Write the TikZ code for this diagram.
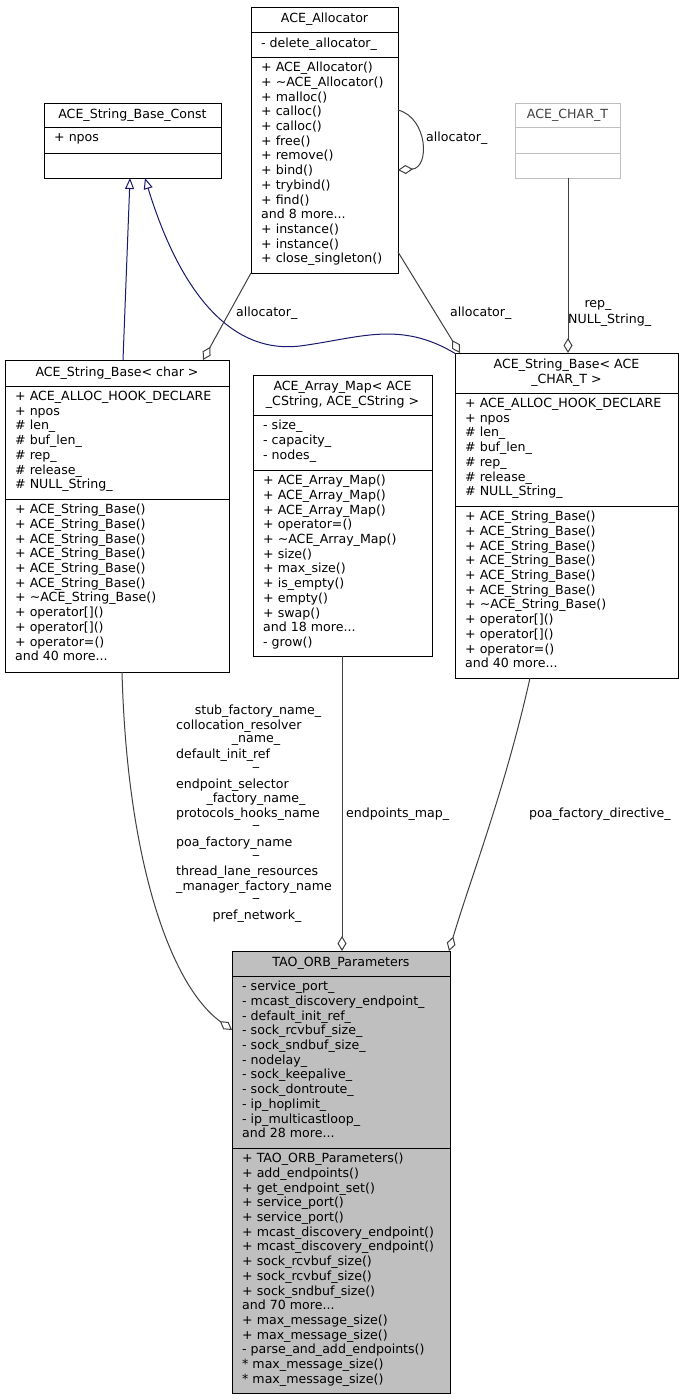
\documentclass[tikz,border=0pt]{standalone}
\usepackage{fontspec}
\setmainfont{DejaVu Sans}
\usetikzlibrary{arrows.meta}
\definecolor{inh}{HTML}{191970}
\definecolor{agg}{HTML}{404040}
\definecolor{grayfill}{HTML}{BFBFBF}
\definecolor{grayline}{HTML}{BFBFBF}
\tikzset{
  boxst/.style={draw=black, line width=1pt, inner sep=0pt, outer sep=0pt},
  txt/.style={inner sep=0pt, align=left, font=\fontsize{12.6}{14.7}\selectfont, anchor=north west},
  ttl/.style={inner sep=0pt, align=center, font=\fontsize{12.6}{14.7}\selectfont},
  lbl/.style={inner sep=0pt, font=\fontsize{12.6}{14.7}\selectfont},
  inhline/.style={draw=inh, line width=1pt, -{Triangle[open,length=11pt,width=9pt,fill=white]}},
  aggline/.style={draw=agg, line width=1pt, -{Diamond[open,length=15pt,width=9pt,fill=white]}}
}
\newcommand\umlbox[8]{%
  \node[boxst, fill=#8, anchor=north west, minimum width={(#3-#2)*1pt}, minimum height={(#7-#4)*1pt}] (#1) at (#2,#4) {};
  \draw[line width=1pt] (#2,#5) -- (#3,#5);
  \draw[line width=1pt] (#2,#6) -- (#3,#6);}
\begin{document}
\begin{tikzpicture}[x=1pt,y=-1pt]
\useasboundingbox (0,0) rectangle (683,1400);
\fill[white] (0,0) rectangle (683,1400);
% ACE_Allocator
\umlbox{alloc}{251}{398}{7}{32}{57}{273}{white}
\node[ttl] (allocT) at (324.5,19.5) {ACE\_Allocator};
\node[txt] (allocA) at (261,38) {- delete\_allocator\_};
\node[txt] (allocM) at (261,62) {+ ACE\_Allocator()\\+ \textasciitilde ACE\_Allocator()\\+ malloc()\\+ calloc()\\+ calloc()\\+ free()\\+ remove()\\+ bind()\\+ trybind()\\+ find()\\and 8 more...\\+ instance()\\+ instance()\\+ close\_singleton()};
% ACE_String_Base_Const
\umlbox{sbc}{44}{221}{103}{127}{153}{178}{white}
\node[ttl] (sbcT) at (132.5,115) {ACE\_String\_Base\_Const};
\node[txt] (sbcA) at (54,133) {+ npos};
% ACE_CHAR_T
\node[boxst, draw=grayline, fill=white, anchor=north west, minimum width=105pt, minimum height=75pt] (chart) at (515,103) {};
\draw[grayline, line width=1pt] (515,127) -- (620,127);
\draw[grayline, line width=1pt] (515,153) -- (620,153);
\node[ttl, text=black!75] (chartT) at (567.5,115) {ACE\_CHAR\_T};
% ACE_String_Base<char>
\umlbox{sbchar}{5}{229}{360}{386}{499}{672}{white}
\node[ttl] (sbcharT) at (117,373) {ACE\_String\_Base< char >};
\node[txt] (sbcharA) at (15,391) {+ ACE\_ALLOC\_HOOK\_DECLARE\\+ npos\\\# len\_\\\# buf\_len\_\\\# rep\_\\\# release\_\\\# NULL\_String\_};
\node[txt] (sbcharM) at (15,504) {+ ACE\_String\_Base()\\+ ACE\_String\_Base()\\+ ACE\_String\_Base()\\+ ACE\_String\_Base()\\+ ACE\_String\_Base()\\+ ACE\_String\_Base()\\+ \textasciitilde ACE\_String\_Base()\\+ operator[]()\\+ operator[]()\\+ operator=()\\and 40 more...};
% ACE_Array_Map
\umlbox{amap}{253}{432}{375}{415}{470}{656}{white}
\node[ttl] (amapT) at (342.5,395) {ACE\_Array\_Map< ACE\\\_CString, ACE\_CString >};
\node[txt] (amapA) at (263,420) {- size\_\\- capacity\_\\- nodes\_};
\node[txt] (amapM) at (263,475) {+ ACE\_Array\_Map()\\+ ACE\_Array\_Map()\\+ ACE\_Array\_Map()\\+ operator=()\\+ \textasciitilde ACE\_Array\_Map()\\+ size()\\+ max\_size()\\+ is\_empty()\\+ empty()\\+ swap()\\and 18 more...\\- grow()};
% ACE_String_Base<ACE_CHAR_T>
\umlbox{sbct}{455}{678}{353}{393}{506}{678}{white}
\node[ttl] (sbctT) at (566.5,373) {ACE\_String\_Base< ACE\\\_CHAR\_T >};
\node[txt] (sbctA) at (465,398) {+ ACE\_ALLOC\_HOOK\_DECLARE\\+ npos\\\# len\_\\\# buf\_len\_\\\# rep\_\\\# release\_\\\# NULL\_String\_};
\node[txt] (sbctM) at (465,511) {+ ACE\_String\_Base()\\+ ACE\_String\_Base()\\+ ACE\_String\_Base()\\+ ACE\_String\_Base()\\+ ACE\_String\_Base()\\+ ACE\_String\_Base()\\+ \textasciitilde ACE\_String\_Base()\\+ operator[]()\\+ operator[]()\\+ operator=()\\and 40 more...};
% TAO_ORB_Parameters
\umlbox{tao}{232}{450}{951}{976}{1148}{1393}{grayfill}
\node[ttl] (taoT) at (341,963.5) {TAO\_ORB\_Parameters};
\node[txt] (taoA) at (242,981) {- service\_port\_\\- mcast\_discovery\_endpoint\_\\- default\_init\_ref\_\\- sock\_rcvbuf\_size\_\\- sock\_sndbuf\_size\_\\- nodelay\_\\- sock\_keepalive\_\\- sock\_dontroute\_\\- ip\_hoplimit\_\\- ip\_multicastloop\_\\and 28 more...};
\node[txt] (taoM) at (242,1153) {+ TAO\_ORB\_Parameters()\\+ add\_endpoints()\\+ get\_endpoint\_set()\\+ service\_port()\\+ service\_port()\\+ mcast\_discovery\_endpoint()\\+ mcast\_discovery\_endpoint()\\+ sock\_rcvbuf\_size()\\+ sock\_rcvbuf\_size()\\+ sock\_sndbuf\_size()\\and 70 more...\\+ max\_message\_size()\\+ max\_message\_size()\\- parse\_and\_add\_endpoints()\\* max\_message\_size()\\* max\_message\_size()};
% coordinates
\coordinate (sbcB1) at (130,178);
\coordinate (sbcB2) at (145,178);
\coordinate (sbcharTop) at (123,360);
\coordinate (sbcharTop2) at (203,360);
\coordinate (sbcharBot) at (122,672);
\coordinate (sbctTL) at (456,354);
\coordinate (sbctTop) at (460,353);
\coordinate (sbctTop2) at (568,353);
\coordinate (sbctBot) at (530,678);
\coordinate (allocBL) at (251,273);
\coordinate (allocR) at (398,252);
\coordinate (allocR1) at (398,110);
\coordinate (allocR2) at (398,170);
\coordinate (chartBot) at (568,178);
\coordinate (amapBot) at (342,656);
\coordinate (taoTop) at (342,951);
\coordinate (taoTop2) at (449,951);
\coordinate (taoLeft) at (232,1030);
% inheritance
\draw[inhline] (sbcharTop) -- (sbcB1);
\draw[inhline] (sbctTL) .. controls (400,320) and (360,338) .. (300,346) .. controls (215,356) and (170,260) .. (sbcB2);
% aggregation
\draw[aggline] (allocBL) -- (sbcharTop2);
\draw[aggline] (allocR) -- (sbctTop);
\draw[aggline] (chartBot) -- (sbctTop2);
\draw[aggline] (allocR1) .. controls (428,118) and (430,168) .. (allocR2);
\draw[aggline] (sbcharBot) .. controls (127,860) and (170,985) .. (taoLeft);
\draw[aggline] (amapBot) -- (taoTop);
\draw[aggline] (sbctBot) .. controls (505,790) and (470,880) .. (taoTop2);
% labels
\node[lbl, anchor=west] (l1) at (236,313) {allocator\_};
\node[lbl, anchor=west] (l2) at (450,313) {allocator\_};
\node[lbl, anchor=west] (l3) at (426,138) {allocator\_};
\node[lbl] (l4) at (598,305) {rep\_};
\node[lbl, anchor=west] (l5) at (568,320) {NULL\_String\_};
\node[lbl] (m1) at (258,711) {stub\_factory\_name\_};
\node[lbl, anchor=west] (m2) at (176,726) {collocation\_resolver};
\node[lbl] (m3) at (256,740) {\_name\_};
\node[lbl, anchor=west] (m4) at (176,755) {default\_init\_ref};
\node[lbl] (m5) at (256,767) {\_};
\node[lbl, anchor=west] (m6) at (176,785) {endpoint\_selector};
\node[lbl] (m7) at (256,799) {\_factory\_name\_};
\node[lbl, anchor=west] (m8) at (176,814) {protocols\_hooks\_name};
\node[lbl] (m9) at (256,825) {\_};
\node[lbl, anchor=west] (m10) at (176,843) {poa\_factory\_name};
\node[lbl] (m11) at (256,855) {\_};
\node[lbl, anchor=west] (m12) at (176,872) {thread\_lane\_resources};
\node[lbl, anchor=west] (m13) at (176,887) {\_manager\_factory\_name};
\node[lbl] (m14) at (256,898) {\_};
\node[lbl] (m15) at (257,916) {pref\_network\_};
\node[lbl, anchor=west] (n1) at (346,814) {endpoints\_map\_};
\node[lbl, anchor=west] (n2) at (529,814) {poa\_factory\_directive\_};
\end{tikzpicture}
\end{document}
